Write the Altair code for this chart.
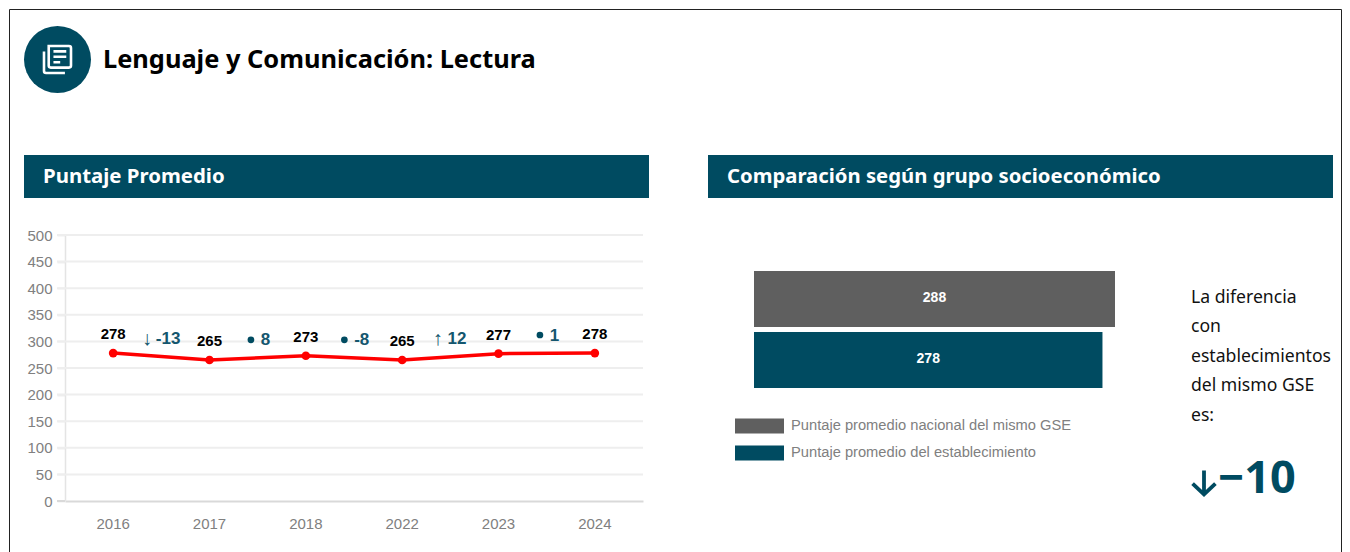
import altair as alt
import pandas as pd

years = ["2016", "2017", "2018", "2022", "2023", "2024"]
scores = [278, 265, 273, 265, 277, 278]
y_ticks = [0, 50, 100, 150, 200, 250, 300, 350, 400, 450, 500]

delta_values = ["-13", "8", "-8", "12", "1"]
delta_pos = [0.57, 1.58, 2.58, 3.57, 4.58]
delta_heights = [305, 302, 302, 305, 311]
delta_marks = ["↓", "●", "●", "↑", "●"]
mark_pos = [0.35, 1.43, 2.40, 3.37, 4.43]
mark_heights = [305, 303, 303, 305, 312]

gse_labels = ["Puntaje promedio nacional del mismo GSE", "Puntaje promedio del establecimiento"]
gse_values = [288, 278]

side_text = ["La diferencia", "con", "establecimientos", "del mismo GSE", "es:"]
side_y = [289.5, 318.5, 348.5, 378, 407.5]

TEAL = "#004b61"
GREY = "#5f5f5f"
W, H = 1334, 544
HEAD = "Noto Sans"
SANS = "Liberation Sans"

one = pd.DataFrame({"a": [0]})


def box(x0, x1, y0, y1, **kw):
    return alt.Chart(one).mark_rect(**kw).encode(
        x=alt.value(x0), x2=alt.value(x1), y=alt.value(y0), y2=alt.value(y1))


def label(text, x, y, **kw):
    return alt.Chart(one).mark_text(text=text, align="left", baseline="middle", **kw).encode(
        x=alt.value(x), y=alt.value(y))


# page decoration (page coordinates minus the 8px margin)
border = box(1.5, 1333.5, 1.5, 560, fill="transparent", stroke="#222222", strokeWidth=1)
circle = alt.Chart(one).mark_point(filled=True, fill=TEAL, size=67 ** 2, opacity=1, stroke=None).encode(
    x=alt.value(49.5), y=alt.value(51.5))
icon_path = ("M-0.65,-1 H0.85 Q1,-1 1,-0.85 V0.45 Q1,0.6 0.85,0.6 H-0.5 Q-0.65,0.6 -0.65,0.45 Z "
             "M-0.3,-0.6 H0.65 M-0.3,-0.2 H0.65 M-0.3,0.2 H0.2 "
             "M-1,-0.6 V0.85 Q-1,1 -0.85,1 H0.55")
icon = alt.Chart(one).mark_point(shape=icon_path, filled=False, stroke="white", strokeWidth=2.6, size=729, opacity=1).encode(
    x=alt.value(49.5), y=alt.value(51.5))
title = label("Lenguaje y Comunicación: Lectura", 95, 52, font=HEAD, fontSize=25.4, fontWeight="bold", color="black")
ban1 = box(16, 641, 147, 190, fill=TEAL)
ban2 = box(700, 1325, 147, 190, fill=TEAL)
ban1t = label("Puntaje Promedio", 35, 169, font=HEAD, fontSize=20.4, fontWeight="bold", color="white")
ban2t = label("Comparación según grupo socioeconómico", 719, 169, font=HEAD, fontSize=20.3, fontWeight="bold", color="white")

# line chart
xs = alt.Scale(type="band", domain=years, range=[57, 635], paddingInner=0, paddingOuter=0)
ys = alt.Scale(domain=[0, 500], range=[493, 227], nice=False)
xq = alt.Scale(domain=[-0.5, 5.5], range=[57, 635], nice=False)
line_df = pd.DataFrame({"year": years, "score": scores})
grid = alt.Chart(pd.DataFrame({"t": y_ticks[1:]})).mark_rule(color="#eeeeee", strokeWidth=2).encode(
    x=alt.value(49), x2=alt.value(635),
    y=alt.Y("t:Q", scale=ys, axis=alt.Axis(
        offset=-57, values=y_ticks, tickSize=8, tickColor="#eeeeee", tickWidth=2,
        domainColor="#e4e4e4", domainWidth=1.5, grid=False, title=None,
        labelFont=SANS, labelFontSize=15, labelColor="#808080", labelPadding=5)))
base_x = alt.X("year:N", scale=xs, sort=years, axis=None)
base_y = alt.Y("score:Q", scale=ys, axis=None)
baseline = alt.Chart(line_df).mark_rule(opacity=0).encode(
    x=alt.X("year:N", scale=xs, sort=years, axis=alt.Axis(
        orient="bottom", offset=-51, labelAngle=0, ticks=False, domainColor="#d9d9d9", domainWidth=2,
        title=None, labelFont=SANS, labelFontSize=15, labelColor="#808080", labelPadding=15)),
    y=alt.value(493))
zero = alt.Chart(one).mark_rule(color="#d9d9d9", strokeWidth=2).encode(
    x=alt.value(49), x2=alt.value(57), y=alt.value(493))
line = alt.Chart(line_df).mark_line(color="#ff0000", strokeWidth=3.5).encode(x=base_x, y=base_y)
pts = alt.Chart(line_df).mark_point(filled=True, color="#ff0000", size=75, opacity=1).encode(x=base_x, y=base_y)
vals = alt.Chart(line_df).mark_text(font=SANS, fontSize=15, fontWeight="bold", color="black", dy=-19).encode(
    x=base_x, y=base_y, text="score:Q")

d_df = pd.DataFrame({"p": delta_pos, "h": delta_heights, "t": delta_values})
m_df = pd.DataFrame({"p": mark_pos, "h": mark_heights, "t": delta_marks})
d_text = alt.Chart(d_df).mark_text(font=SANS, fontSize=17, fontWeight="bold", color="#14566e").encode(
    x=alt.X("p:Q", scale=xq, axis=None), y=alt.Y("h:Q", scale=ys, axis=None), text="t:N")
arrows = alt.Chart(m_df[m_df.t != "●"]).mark_text(font=SANS, fontSize=20, color="#14566e").encode(
    x=alt.X("p:Q", scale=xq, axis=None), y=alt.Y("h:Q", scale=ys, axis=None), text="t:N")
dots = alt.Chart(m_df[m_df.t == "●"]).mark_point(filled=True, color=TEAL, size=45, opacity=1).encode(
    x=alt.X("p:Q", scale=xq, axis=None), y=alt.Y("h:Q", scale=ys, axis=None))

# bars
bar_df = pd.DataFrame({"g": gse_labels, "v": gse_values})
bx = alt.Scale(domain=[0, 288], range=[746, 1107], nice=False)
by = alt.Scale(type="band", domain=gse_labels, range=[263, 380], paddingInner=5 / 61, paddingOuter=0)
bar_color = alt.Color("g:N", sort=gse_labels, scale=alt.Scale(domain=gse_labels, range=[GREY, TEAL]),
                      legend=alt.Legend(
                          orient="none", legendX=727, legendY=404.5, title=None,
                          symbolType="M-1,-0.306H1V0.306H-1Z", symbolSize=2401, symbolOpacity=1,
                          symbolStrokeWidth=0, clipHeight=27, rowPadding=0,
                          labelFont=SANS, labelFontSize=14.7, labelColor="#808080", labelOffset=7, labelLimit=400))
bars = alt.Chart(bar_df).mark_bar(opacity=1).encode(
    x=alt.X("v:Q", scale=bx, axis=None), y=alt.Y("g:N", scale=by, sort=gse_labels, axis=None), color=bar_color)
bar_vals = alt.Chart(bar_df).transform_calculate(mid="datum.v / 2").mark_text(
    font=SANS, fontSize=14, fontWeight="bold", color="white", dy=-1).encode(
    x=alt.X("mid:Q", scale=bx, axis=None), y=alt.Y("g:N", scale=by, sort=gse_labels, axis=None), text="v:Q")

side = [label(t, 1183, y, font=HEAD, fontSize=17.6, color="#111111") for t, y in zip(side_text, side_y)]
big_arrow = alt.Chart(one).mark_point(shape="M0,-1 V1 M-0.95,0.1 L0,1 L0.95,0.1", filled=False, stroke=TEAL,
                                      strokeWidth=3.8, size=576, opacity=1).encode(
    x=alt.value(1196), y=alt.value(474.5))
big = label("−10", 1210, 471, font=HEAD, fontSize=45, fontWeight="bold", color=TEAL)

chart = alt.layer(
    border, circle, icon, title, ban1, ban2, ban1t, ban2t,
    grid, zero, baseline, line, pts, vals, d_text, arrows, dots,
    bars, bar_vals, *side, big_arrow, big,
).resolve_scale(x="independent", y="independent", color="independent").resolve_axis(
    x="independent", y="independent"
).properties(width=W, height=H, padding=0, autosize=alt.AutoSizeParams(type="none")).configure_view(stroke=None)

chart.save("out.html", embed_options={"renderer": "svg", "actions": False})
